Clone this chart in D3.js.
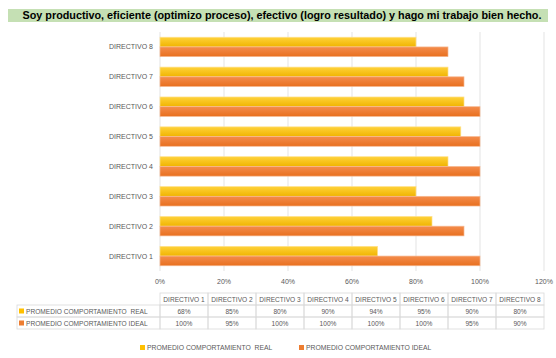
<!DOCTYPE html>
<html>
<head>
<meta charset="utf-8">
<script src="https://cdn.jsdelivr.net/npm/d3@7"></script>
<style>
  body { margin: 0; background: #fff; }
  svg { display: block; font-family: 'Liberation Sans', Arial, sans-serif; }
</style>
</head>
<body>
<div id="chart"></div>
<script>
const categories = ['DIRECTIVO 1', 'DIRECTIVO 2', 'DIRECTIVO 3', 'DIRECTIVO 4', 'DIRECTIVO 5', 'DIRECTIVO 6', 'DIRECTIVO 7', 'DIRECTIVO 8'];
const seriesNames = ['PROMEDIO COMPORTAMIENTO  REAL', 'PROMEDIO COMPORTAMIENTO IDEAL'];
const realValues = [68, 85, 80, 90, 94, 95, 90, 80];
const idealValues = [100, 95, 100, 100, 100, 100, 95, 90];
const xTicks = [0, 20, 40, 60, 80, 100, 120];
const title = 'Soy productivo, eficiente (optimizo proceso), efectivo (logro resultado) y hago mi trabajo bien hecho.';

const width = 556, height = 358;
const svg = d3.select('#chart').append('svg')
    .attr('width', width)
    .attr('height', height);

// degradados de las barras
const defs = svg.append('defs');
const grads = [
    {id: 'gReal', top: '#ffd23a', bottom: '#f0b400'},
    {id: 'gIdeal', top: '#f48c4c', bottom: '#e8701f'}
];
grads.forEach(g => {
    const lg = defs.append('linearGradient').attr('id', g.id)
        .attr('x1', 0).attr('y1', 0).attr('x2', 0).attr('y2', 1);
    lg.append('stop').attr('offset', '0%').attr('stop-color', g.top);
    lg.append('stop').attr('offset', '100%').attr('stop-color', g.bottom);
});
const fills = ['url(#gReal)', 'url(#gIdeal)'];
const strokes = ['#ffe08a', '#f7b890'];
const swatch = ['#ffc000', '#ed7d31'];

// titulo
svg.append('rect')
    .attr('x', 8).attr('y', 9)
    .attr('width', 540).attr('height', 13)
    .attr('fill', '#c5e0b4');
svg.append('text')
    .attr('x', 282).attr('y', 19.3)
    .attr('text-anchor', 'middle')
    .style('font-size', '10.8px')
    .style('font-weight', 'bold')
    .attr('fill', '#000')
    .text(title);

const plotLeft = 160, plotRight = 544, plotTop = 32, plotBottom = 271;

const x = d3.scaleLinear().domain([0, 120]).range([plotLeft, plotRight]);
const y = d3.scaleBand()
    .domain(categories.slice().reverse())
    .range([plotTop, plotBottom])
    .paddingInner(0.35)
    .paddingOuter(0.175);
const ySub = d3.scaleBand().domain([0, 1]).range([0, y.bandwidth()]);

// lineas de cuadricula
svg.append('g').selectAll('line').data(xTicks).join('line')
    .attr('x1', d => x(d)).attr('x2', d => x(d))
    .attr('y1', plotTop).attr('y2', plotBottom)
    .attr('stroke', '#e3e3e3')
    .attr('stroke-width', 1);

// etiquetas eje x
svg.append('g').selectAll('text').data(xTicks).join('text')
    .attr('x', d => x(d)).attr('y', 284)
    .attr('text-anchor', 'middle')
    .style('font-size', '7px')
    .attr('fill', '#595959')
    .text(d => d + '%');

// etiquetas eje y
svg.append('g').selectAll('text').data(categories).join('text')
    .attr('x', 153)
    .attr('y', d => y(d) + y.bandwidth() / 2 + 2.5)
    .attr('text-anchor', 'end')
    .style('font-size', '7px')
    .attr('fill', '#595959')
    .text(d => d);

// barras
const seriesData = [realValues, idealValues];
seriesData.forEach((vals, s) => {
    svg.append('g').selectAll('rect').data(vals).join('rect')
        .attr('x', x(0))
        .attr('y', (d, i) => y(categories[i]) + ySub(s))
        .attr('width', d => x(d) - x(0))
        .attr('height', ySub.bandwidth())
        .attr('fill', fills[s])
        .attr('stroke', strokes[s])
        .attr('stroke-width', 0.7);
});

// tabla de datos
const colW = (plotRight - plotLeft) / categories.length;
const rowTop = 293, rowH = 12;
const tbl = svg.append('g');
const lineColor = '#d9d9d9';

// encabezado
categories.forEach((c, i) => {
    tbl.append('rect')
        .attr('x', plotLeft + i * colW).attr('y', rowTop)
        .attr('width', colW).attr('height', rowH)
        .attr('fill', 'none').attr('stroke', lineColor).attr('stroke-width', 0.8);
    tbl.append('text')
        .attr('x', plotLeft + i * colW + colW / 2).attr('y', rowTop + 8.5)
        .attr('text-anchor', 'middle')
        .style('font-size', '6.6px')
        .attr('fill', '#595959')
        .text(c);
});

seriesData.forEach((vals, s) => {
    const ry = rowTop + rowH * (s + 1);
    tbl.append('rect')
        .attr('x', 17).attr('y', ry)
        .attr('width', plotLeft - 17).attr('height', rowH)
        .attr('fill', 'none').attr('stroke', lineColor).attr('stroke-width', 0.8);
    tbl.append('rect')
        .attr('x', 19).attr('y', ry + 3.5)
        .attr('width', 5).attr('height', 5)
        .attr('fill', swatch[s]);
    tbl.append('text')
        .attr('x', 26).attr('y', ry + 8.5)
        .style('font-size', '6.6px')
        .attr('fill', '#595959')
        .attr('xml:space', 'preserve')
        .text(seriesNames[s]);
    vals.forEach((v, i) => {
        tbl.append('rect')
            .attr('x', plotLeft + i * colW).attr('y', ry)
            .attr('width', colW).attr('height', rowH)
            .attr('fill', 'none').attr('stroke', lineColor).attr('stroke-width', 0.8);
        tbl.append('text')
            .attr('x', plotLeft + i * colW + colW / 2).attr('y', ry + 8.5)
            .attr('text-anchor', 'middle')
            .style('font-size', '6.6px')
            .attr('fill', '#595959')
            .text(v + '%');
    });
});

// leyenda
const legendX = [140, 299];
seriesNames.forEach((n, s) => {
    const g = svg.append('g').attr('transform', `translate(${legendX[s]},345)`);
    g.append('rect').attr('width', 5).attr('height', 5).attr('fill', swatch[s]);
    g.append('text')
        .attr('x', 7).attr('y', 5)
        .style('font-size', '6.8px')
        .attr('fill', '#595959')
        .attr('xml:space', 'preserve')
        .text(n);
});
</script>
</body>
</html>
